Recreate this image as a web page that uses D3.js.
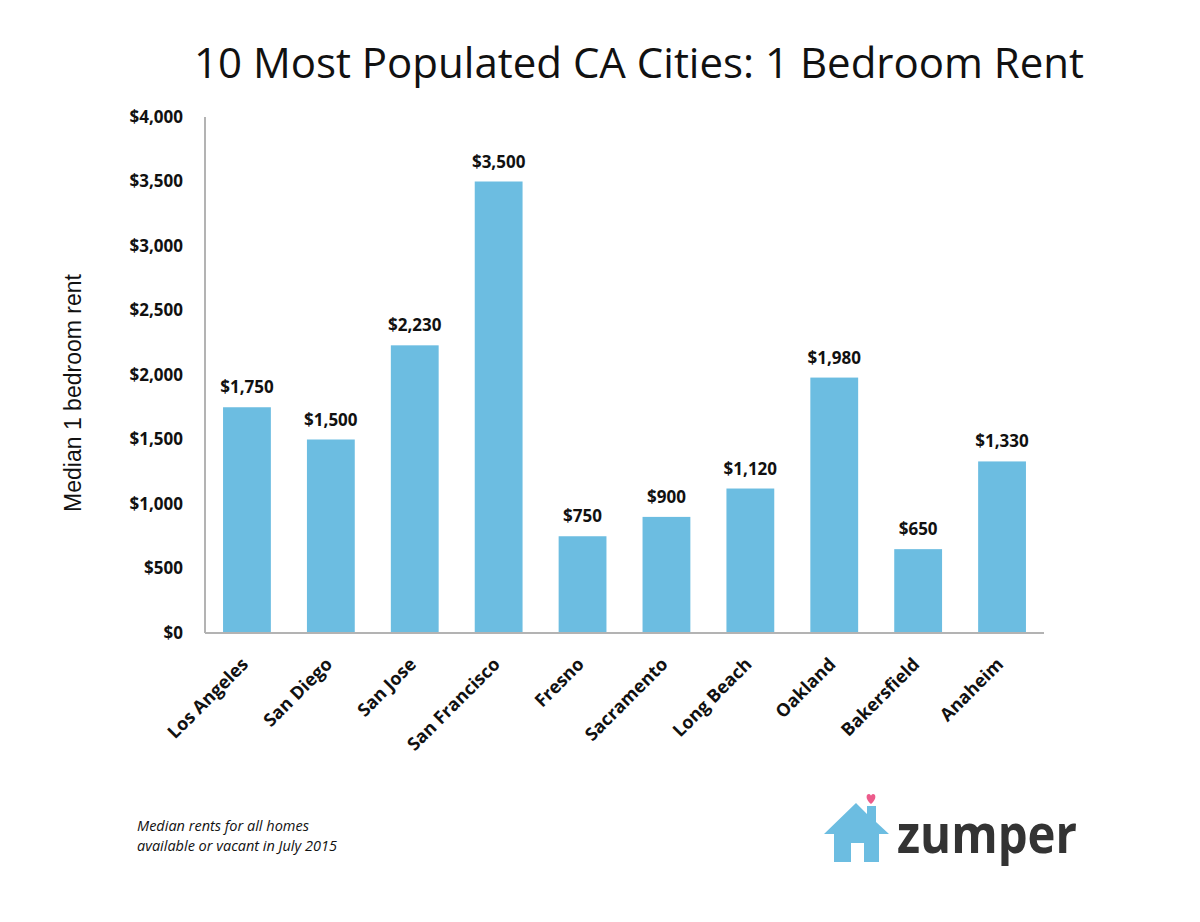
<!DOCTYPE html>
<html>
<head>
<meta charset="utf-8">
<script src="https://cdn.jsdelivr.net/npm/d3@7"></script>
<style>
  body { margin: 0; background: #fff; }
  text { font-family: "Open Sans", sans-serif; }
</style>
</head>
<body>
<div id="chart"></div>
<script>
// data
const cities = ["Los Angeles", "San Diego", "San Jose", "San Francisco", "Fresno",
  "Sacramento", "Long Beach", "Oakland", "Bakersfield", "Anaheim"];
const rents = [1750, 1500, 2230, 3500, 750, 900, 1120, 1980, 650, 1330];
const yTicks = [0, 500, 1000, 1500, 2000, 2500, 3000, 3500, 4000];

const W = 1200, H = 922;
const margin = { top: 117, right: 156, bottom: 289, left: 205 };
const width = W - margin.left - margin.right;
const height = H - margin.top - margin.bottom;

const svg = d3.select("#chart").append("svg")
  .attr("width", W).attr("height", H);

// title
svg.append("text")
  .attr("x", 639).attr("y", 78)
  .attr("text-anchor", "middle")
  .style("font-size", "42px")
  .style("fill", "#111")
  .text("10 Most Populated CA Cities: 1 Bedroom Rent");

const g = svg.append("g").attr("transform", `translate(${margin.left},${margin.top})`);

const x = d3.scaleBand().domain(cities).range([0, width])
  .paddingInner(0.43).paddingOuter(0.215);
const y = d3.scaleLinear().domain([0, 4000]).range([height, 0]);

// bars
g.selectAll(".bar").data(cities).enter().append("rect")
  .attr("class", "bar")
  .attr("x", d => x(d))
  .attr("width", x.bandwidth())
  .attr("y", (d, i) => y(rents[i]))
  .attr("height", (d, i) => height - y(rents[i]))
  .attr("fill", "#6cbde1");

// value labels
const fmt = d3.format("$,");
g.selectAll(".val").data(cities).enter().append("text")
  .attr("x", d => x(d) + x.bandwidth() / 2)
  .attr("y", (d, i) => y(rents[i]) - 14)
  .attr("text-anchor", "middle")
  .style("font-size", "17px").style("font-weight", "bold").style("fill", "#111")
  .text((d, i) => fmt(rents[i]));

// y axis
const yAxis = g.append("g")
  .call(d3.axisLeft(y).tickValues(yTicks).tickSize(0).tickPadding(22).tickFormat(fmt));
yAxis.select(".domain").remove();
yAxis.selectAll("text")
  .style("font-family", "'Open Sans', sans-serif")
  .style("font-size", "17px").style("font-weight", "bold").style("fill", "#111");

// x axis
const xAxis = g.append("g").attr("transform", `translate(0,${height})`)
  .call(d3.axisBottom(x).tickSize(0));
xAxis.select(".domain").remove();
xAxis.selectAll("text")
  .style("font-family", "'Open Sans', sans-serif")
  .style("font-size", "18px").style("font-weight", "bold").style("fill", "#111")
  .attr("text-anchor", "end")
  .attr("dy", "0.35em")
  .attr("y", 0)
  .attr("transform", "translate(-2,28) rotate(-45)");

// axis lines
g.append("line").attr("x1", 0).attr("x2", 0).attr("y1", 0).attr("y2", height)
  .attr("stroke", "#b3b3b3").attr("stroke-width", 2);
g.append("line").attr("x1", 0).attr("x2", width).attr("y1", height).attr("y2", height)
  .attr("stroke", "#b3b3b3").attr("stroke-width", 2);

// y axis title
svg.append("text")
  .attr("transform", "translate(81,393) rotate(-90)")
  .attr("text-anchor", "middle")
  .style("font-family", "'Liberation Sans', Arial, sans-serif")
  .style("font-size", "23px").style("fill", "#111")
  .text("Median 1 bedroom rent");

// footnote (two separate lines)
svg.append("text")
  .attr("x", 137).attr("y", 831)
  .style("font-size", "14.5px").style("font-style", "italic").style("fill", "#111")
  .text("Median rents for all homes");
svg.append("text")
  .attr("x", 137).attr("y", 851)
  .style("font-size", "14.5px").style("font-style", "italic").style("fill", "#111")
  .text("available or vacant in July 2015");

// logo
const logo = svg.append("g");
logo.append("path")
  .attr("d", "M824,834 L856,803 L867,814 L867,806 L876,806 L876,822 L889,834 L879,834 L879,862 L864,862 L864,843 L851,843 L851,862 L834,862 L834,834 Z")
  .attr("fill", "#6cbde1");
logo.append("path")
  .attr("d", "M871,804 C865,799 866,794 869,794 C870,794 871,795 871,796 C871,795 872,794 873,794 C876,794 877,799 871,804 Z")
  .attr("fill", "#ec5b8b");
logo.append("text")
  .attr("x", 897).attr("y", 853)
  .attr("textLength", 180).attr("lengthAdjust", "spacingAndGlyphs")
  .style("font-size", "54px").style("font-weight", "bold").style("fill", "#333")
  .text("zumper");
</script>
</body>
</html>
